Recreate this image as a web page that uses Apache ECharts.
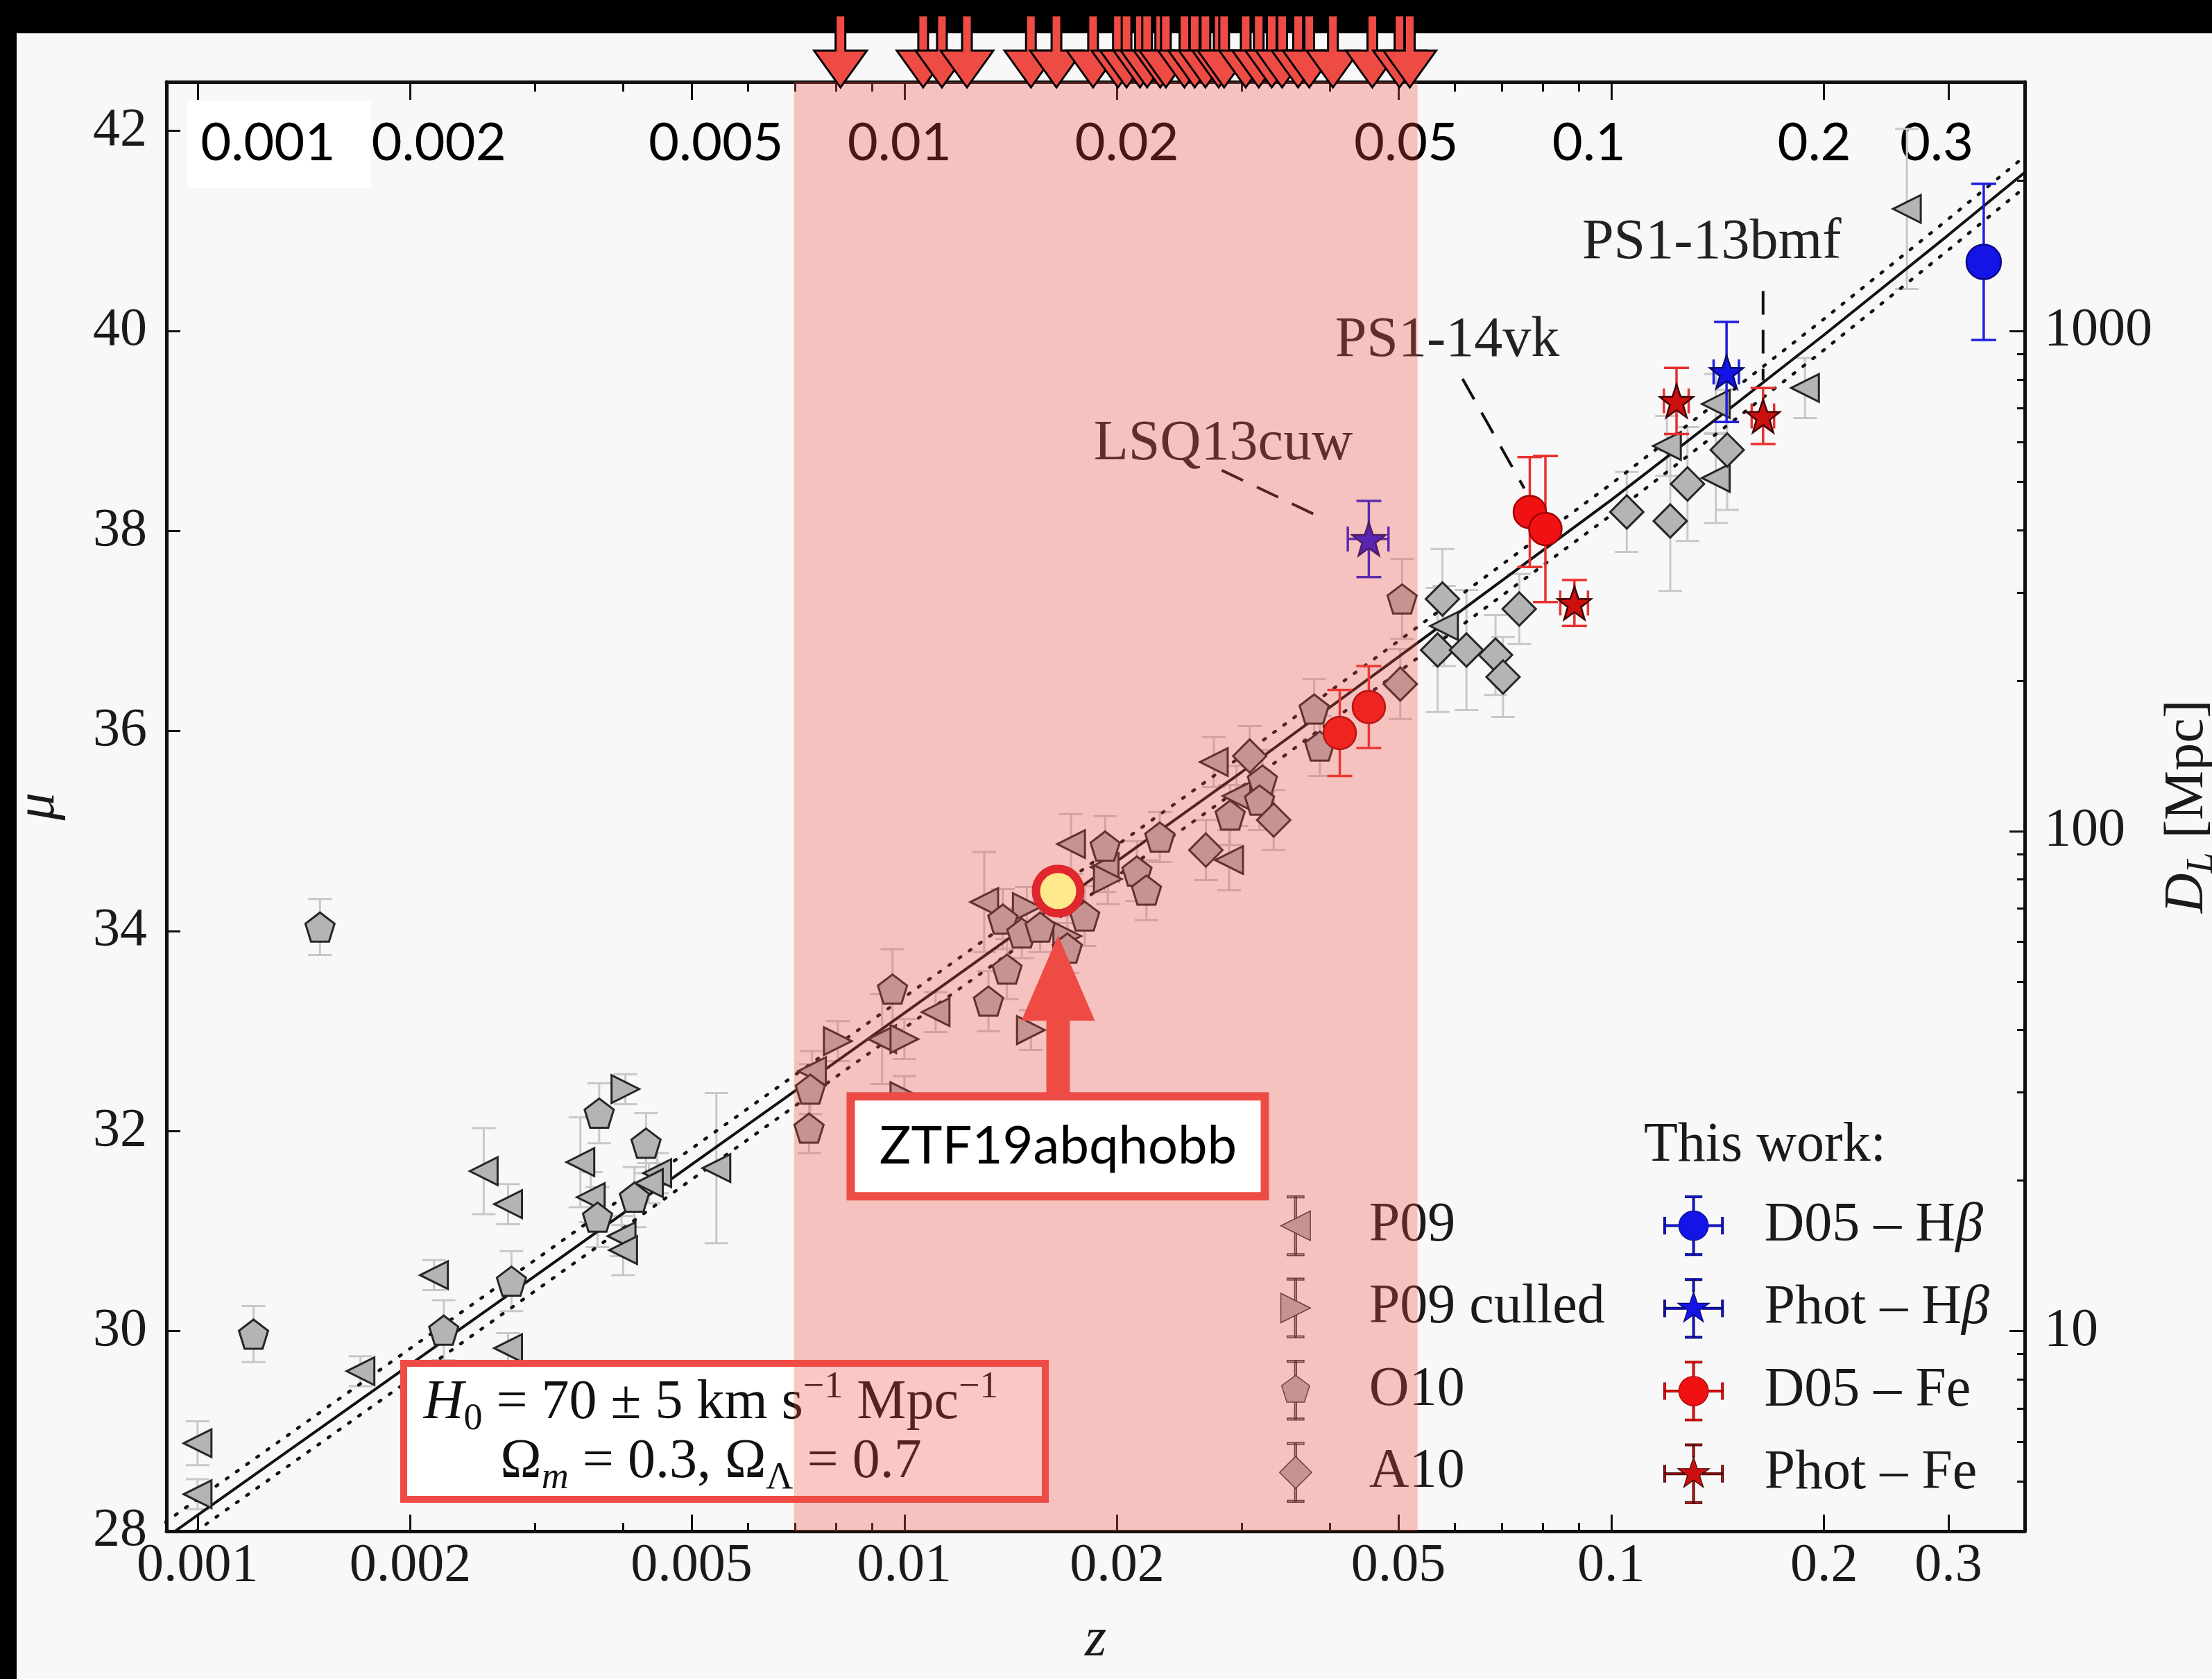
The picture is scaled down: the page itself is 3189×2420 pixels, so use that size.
<!DOCTYPE html>
<html>
<head>
<meta charset="utf-8">
<script src="https://cdn.jsdelivr.net/npm/echarts@6/dist/echarts.min.js"></script>
<style>
  html, body { margin: 0; padding: 0; background: #000; }
  #chart { width: 3189px; height: 2420px; }
</style>
</head>
<body>
<div id="chart"></div>
<script>
// ---------------- axis ticks ----------------
const zTicks = [0.001, 0.002, 0.005, 0.01, 0.02, 0.05, 0.1, 0.2, 0.3];
const zTickLabels = ['0.001', '0.002', '0.005', '0.01', '0.02', '0.05', '0.1', '0.2', '0.3'];
const zMinorTicks = [0.003, 0.004, 0.006, 0.007, 0.008, 0.009, 0.03, 0.04, 0.06, 0.07, 0.08, 0.09];
const dlTicks = [10, 100, 1000];
const dlTickLabels = ['10', '100', '1000'];
const dlMinorTicks = [5, 6, 7, 8, 9, 20, 30, 40, 50, 60, 70, 80, 90, 200, 300, 400, 500, 600, 700, 800, 900, 2000];

// ---------------- literature samples ----------------
const p09Z   = [0.00100, 0.00100, 0.00170, 0.00216, 0.00275, 0.00254, 0.00275, 0.00348, 0.00360, 0.00398, 0.00400, 0.00447, 0.00435, 0.00542, 0.0074, 0.0093, 0.01107, 0.01297, 0.01721, 0.0192, 0.0274, 0.0295, 0.0288, 0.058, 0.1199, 0.1406, 0.1406, 0.188, 0.262];
const p09Mu  = [28.88, 28.37, 29.60, 30.56, 29.83, 31.60, 31.27, 31.69, 31.34, 30.95, 30.81, 31.58, 31.48, 31.63, 32.60, 32.92, 33.19, 34.29, 34.87, 34.64, 35.69, 35.35, 34.71, 37.05, 38.85, 38.53, 39.27, 39.43, 41.22];
const p09Err = [0.22, 0.15, 0.15, 0.15, 0.15, 0.43, 0.20, 0.45, 0.25, 0.20, 0.25, 0.20, 0.20, 0.75, 0.20, 0.45, 0.20, 0.50, 0.30, 0.25, 0.25, 0.30, 0.30, 0.40, 0.30, 0.45, 0.30, 0.30, 0.80];

const p09cZ   = [0.00403, 0.00805, 0.0100, 0.0100, 0.0151, 0.0149, 0.0194, 0.0170];
const p09cMu  = [32.42, 32.90, 32.92, 32.35, 33.01, 34.24, 34.52, 33.95];
const p09cErr = [0.15, 0.20, 0.20, 0.20, 0.20, 0.20, 0.25, 0.20];

const o10Z   = [0.00149, 0.00120, 0.00223, 0.00278, 0.00370, 0.00431, 0.00368, 0.00415, 0.00733, 0.00736, 0.00962, 0.01315, 0.01397, 0.01378, 0.01466, 0.01556, 0.01799, 0.0170, 0.01923, 0.02133, 0.0220, 0.02298, 0.0321, 0.0318, 0.0289, 0.0380, 0.0387, 0.0506];
const o10Mu  = [34.04, 29.97, 30.01, 30.50, 32.18, 31.88, 31.14, 31.34, 32.03, 32.42, 33.42, 33.30, 33.62, 34.12, 33.98, 34.04, 34.15, 33.83, 34.85, 34.60, 34.41, 34.94, 35.51, 35.31, 35.16, 36.22, 35.85, 37.32];
const o10Err = [0.28, 0.28, 0.30, 0.30, 0.30, 0.30, 0.30, 0.30, 0.25, 0.25, 0.40, 0.30, 0.30, 0.30, 0.25, 0.25, 0.30, 0.25, 0.30, 0.30, 0.30, 0.25, 0.30, 0.30, 0.30, 0.30, 0.30, 0.40];

const a10Z   = [0.0267, 0.0308, 0.0333, 0.0503, 0.0577, 0.0568, 0.0624, 0.0686, 0.0703, 0.0741, 0.1052, 0.1212, 0.1282, 0.1459];
const a10Mu  = [34.81, 35.75, 35.11, 36.47, 37.32, 36.81, 36.81, 36.76, 36.54, 37.22, 38.19, 38.10, 38.47, 38.81];
const a10Err = [0.30, 0.30, 0.30, 0.35, 0.50, 0.62, 0.60, 0.40, 0.40, 0.35, 0.40, 0.70, 0.57, 0.60];

// ---------------- this work ----------------
const d05HbZ = [0.3365];
const d05HbMu = [40.69];
const d05HbErr = [0.78];

const photHbZ = [0.0454, 0.1456];
const photHbMu = [37.92, 39.59];
const photHbErr = [0.38, 0.50];
const photHbZErr = [0.0030, 0.0060];

const d05FeZ = [0.0413, 0.0454, 0.0767, 0.0807];
const d05FeMu = [35.98, 36.24, 38.19, 38.02];
const d05FeErr = [0.43, 0.41, 0.55, 0.73];

const photFeZ = [0.0887, 0.1237, 0.164];
const photFeMu = [37.28, 39.30, 39.15];
const photFeErr = [0.23, 0.33, 0.28];
const photFeZErr = [0.004, 0.005, 0.006];

// ---------------- Hubble relations ----------------
const hubbleZ    = [0.0009, 0.001, 0.003, 0.01, 0.03, 0.05, 0.1, 0.15, 0.2, 0.3, 0.39];
const hubbleMu70 = [27.93, 28.16, 30.55, 33.18, 35.59, 36.74, 38.31, 39.27, 39.96, 40.96, 41.62];
const hubbleMu65 = [28.09, 28.32, 30.71, 33.34, 35.75, 36.90, 38.47, 39.43, 40.12, 41.12, 41.78];
const hubbleMu75 = [27.78, 28.01, 30.40, 33.03, 35.44, 36.59, 38.16, 39.12, 39.81, 40.81, 41.47];

// ---------------- highlighted sample ----------------
const ztfName = 'ZTF19abqhobb';
const ztfZ = 0.0165;
const ztfMu = 34.40;
const sampleZ = [0.00812, 0.01063, 0.01130, 0.01226, 0.01510, 0.01641, 0.01849, 0.02005, 0.02062, 0.02154, 0.02205, 0.02301, 0.02344, 0.02490, 0.02575, 0.02666, 0.02784, 0.02834, 0.03040, 0.03172, 0.03309, 0.03423, 0.03606, 0.03739, 0.04039, 0.04592, 0.05017, 0.05188];
const bandZ = [0.00698, 0.0532];

const calloutNames = ['LSQ13cuw', 'PS1-14vk', 'PS1-13bmf'];
const calloutZ = [0.0454, 0.0767, 0.164];
const calloutMu = [37.92, 38.19, 39.15];

// ---------------- layout ----------------
const LZ_MIN = -3.044, LZ_MAX = -0.415, MU_MIN = 28, MU_MAX = 42.49;
const SERIF = 'Liberation Serif';
const SANS = 'Lato';
const RED = '#ef4b45';
const GRAY = '#b4b4b4', EDGE = '#262626', ERRGRAY = '#c8c8c8';
// callout text / leader-line offsets from their point, px
const calloutLayout = [
  { text: [-210, -136], line: [[-212, -99], [-63, -28]] },
  { text: [-119, -246], line: [[-97, -192], [-8, -34]] },
  { text: [-74, -249], line: [[0, -180], [0, -51]] }
];
// horizontal nudges of the upper redshift labels, px
const topLabelShift = [0, 41, 35, -7, 14, 11, -32, -14, -17];

const lg = Math.log10;
const muOfDl = d => 5 * lg(d) + 25;

function markerPts(z, mu) { return z.map((v, i) => [lg(v), mu[i]]); }
function errPts(z, mu, err, zErr) {
  return z.map((v, i) => {
    const ze = zErr ? zErr[i] : 0;
    return [lg(v), mu[i], err[i], lg(v - ze), lg(v + ze)];
  });
}
function errorBars(color, capHalf, width) {
  return function (params, api) {
    const x = api.value(0), y = api.value(1), e = api.value(2);
    const xl = api.value(3), xh = api.value(4);
    const t = api.coord([x, y + e]), b = api.coord([x, y - e]);
    const st = { stroke: color, lineWidth: width, fill: null };
    const ch = [
      { type: 'line', shape: { x1: t[0], y1: t[1], x2: b[0], y2: b[1] }, style: st },
      { type: 'line', shape: { x1: t[0] - capHalf, y1: t[1], x2: t[0] + capHalf, y2: t[1] }, style: st },
      { type: 'line', shape: { x1: b[0] - capHalf, y1: b[1], x2: b[0] + capHalf, y2: b[1] }, style: st }
    ];
    if (xh > xl) {
      const l = api.coord([xl, y]), r = api.coord([xh, y]);
      ch.push({ type: 'line', shape: { x1: l[0], y1: l[1], x2: r[0], y2: r[1] }, style: st });
      ch.push({ type: 'line', shape: { x1: l[0], y1: l[1] - capHalf, x2: l[0], y2: l[1] + capHalf }, style: st });
      ch.push({ type: 'line', shape: { x1: r[0], y1: r[1] - capHalf, x2: r[0], y2: r[1] + capHalf }, style: st });
    }
    return { type: 'group', children: ch };
  };
}

// marker shapes
const PENTAGON = 'path://M50,0L97.55,34.55L79.39,90.45L20.61,90.45L2.45,34.55Z';
const STAR = 'path://M50,0L61.76,33.82L97.55,34.55L69.02,56.18L79.39,90.45L50,70L20.61,90.45L30.98,56.18L2.45,34.55L38.24,33.82Z';

// legend icons: marker plus its error bars
const vBar = (t, b) => `M48.5,5H51.5V${t}H48.5Z M48.5,${b}H51.5V95H48.5Z M37,3.5H63V6.5H37Z M37,93.5H63V96.5H37Z`;
const hvBar = (t, b, l, r) => vBar(t, b) + ` M5,48.5H${l}V51.5H5Z M${r},48.5H95V51.5H${r}Z M3.5,37H6.5V63H3.5Z M93.5,37H96.5V63H93.5Z`;
const ICON = {
  p09: 'path://M27,50L73,27L73,73Z ' + vBar(38.5, 61.5),
  p09c: 'path://M73,50L27,27L27,73Z ' + vBar(38.5, 61.5),
  o10: 'path://M50,27L71.87,42.89L63.52,68.61L36.48,68.61L28.13,42.89Z ' + vBar(27, 68.6),
  a10: 'path://M50,25L75,50L50,75L25,50Z ' + vBar(25, 75),
  circ: 'path://M27,50A23,23 0 1,1 73,50A23,23 0 1,1 27,50Z ' + hvBar(27, 73, 27, 73),
  star: 'path://M50,24L55.88,41.91L74.73,41.97L59.51,53.09L65.28,71.03L50,60L34.72,71.03L40.49,53.09L25.27,41.97L44.12,41.91Z ' + hvBar(24, 60, 36, 64)
};

function tickIndex(v) { return zTicks.findIndex(t => Math.abs(lg(t) - v) < 1e-6); }

// rich styles for the upper labels
const topRich = {
  t: { fontFamily: SANS, fontSize: 76, color: '#000', padding: [22, 0, 27, 0] },
  w: { fontFamily: SANS, fontSize: 76, color: '#000', backgroundColor: '#ffffff', padding: [22, 51, 27, 20] },
  s0: { width: 234, fontSize: 10 }
};
topLabelShift.forEach((d, i) => { if (i > 0 && d !== 0) topRich['s' + i] = { width: Math.abs(2 * d), fontSize: 10 }; });
function topLabel(v) {
  const i = tickIndex(v);
  if (i < 0) return '';
  if (i === 0) return '{s0| }{w|' + zTickLabels[0] + '}';
  const d = topLabelShift[i];
  if (d > 0) return '{s' + i + '| }{t|' + zTickLabels[i] + '}';
  if (d < 0) return '{t|' + zTickLabels[i] + '}{s' + i + '| }';
  return '{t|' + zTickLabels[i] + '}';
}

const zTickLog = zTicks.map(lg);
const zMinorLog = zMinorTicks.map(lg);

const axisBase = {
  type: 'value', min: LZ_MIN, max: LZ_MAX, splitLine: { show: false }, gridIndex: 0
};
const blackLine = { show: true, lineStyle: { color: '#111', width: 5 } };

const chart = echarts.init(document.getElementById('chart'), null, { renderer: 'canvas', width: 3189, height: 2420 });

const option = {
  animation: false,
  backgroundColor: '#f8f8f8',
  textStyle: { fontFamily: SERIF },
  grid: { left: 240, top: 118, right: 270, bottom: 213, show: false, containLabel: false, outerBoundsMode: 'none' },
  xAxis: [
    Object.assign({}, axisBase, {
      position: 'bottom',
      axisLine: blackLine,
      axisTick: { show: true, inside: true, length: 24, customValues: zTickLog, lineStyle: { color: '#111', width: 3 } },
      axisLabel: {
        customValues: zTickLog, margin: 12, fontFamily: SERIF, fontSize: 78, color: '#1a1a1a',
        showMinLabel: true, showMaxLabel: true,
        formatter: v => { const i = tickIndex(v); return i < 0 ? '' : zTickLabels[i]; }
      },
      name: 'z', nameLocation: 'middle', nameGap: 118,
      nameTextStyle: { fontFamily: SERIF, fontStyle: 'italic', fontSize: 80, color: '#1a1a1a' }
    }),
    Object.assign({}, axisBase, {
      position: 'bottom',
      axisLine: { show: false },
      axisTick: { show: true, inside: true, length: 12, customValues: zMinorLog, lineStyle: { color: '#111', width: 3 } },
      axisLabel: { show: false }
    }),
    // upper axis: labels from 0.002 on
    Object.assign({}, axisBase, {
      position: 'top',
      axisLine: blackLine,
      axisTick: { show: true, inside: true, length: 26, customValues: zTickLog, lineStyle: { color: '#111', width: 3 } },
      axisLabel: { inside: true, customValues: zTickLog.slice(1), margin: 28, showMinLabel: true, showMaxLabel: true, formatter: topLabel, rich: topRich }
    }),
    // upper axis: minor ticks and the boxed first label
    Object.assign({}, axisBase, {
      position: 'top',
      axisLine: { show: false },
      axisTick: { show: true, inside: true, length: 14, customValues: zMinorLog, lineStyle: { color: '#111', width: 3 } },
      axisLabel: { inside: true, customValues: zTickLog.slice(0, 1), margin: 28, showMinLabel: true, showMaxLabel: true, formatter: topLabel, rich: topRich }
    })
  ],
  yAxis: [
    {
      type: 'value', min: MU_MIN, max: MU_MAX, interval: 2, position: 'left',
      splitLine: { show: false },
      axisLine: blackLine,
      axisTick: { show: true, inside: true, length: 20, lineStyle: { color: '#111', width: 3 } },
      axisLabel: { margin: 28, fontFamily: SERIF, fontSize: 78, color: '#1a1a1a', showMinLabel: true },
      name: 'μ', nameLocation: 'middle', nameRotate: 90, nameGap: 144,
      nameTextStyle: { fontFamily: SERIF, fontStyle: 'italic', fontSize: 80, color: '#1a1a1a' }
    },
    {
      type: 'value', min: MU_MIN, max: MU_MAX, position: 'right',
      splitLine: { show: false },
      axisLine: blackLine,
      axisTick: { show: true, inside: true, length: 22, customValues: dlTicks.map(muOfDl), lineStyle: { color: '#111', width: 3 } },
      axisLabel: {
        customValues: dlTicks.map(muOfDl), margin: 28, fontFamily: SERIF, fontSize: 78, color: '#1a1a1a',
        formatter: v => { const i = dlTicks.findIndex(d => Math.abs(muOfDl(d) - v) < 1e-6); return i < 0 ? '' : dlTickLabels[i]; }
      },
      name: '{i|D}{s|L} [Mpc]', nameLocation: 'middle', nameRotate: 90, nameGap: 182,
      nameTextStyle: {
        fontFamily: SERIF, fontSize: 80, color: '#1a1a1a',
        rich: {
          i: { fontFamily: SERIF, fontStyle: 'italic', fontSize: 80, color: '#1a1a1a' },
          s: { fontFamily: SERIF, fontStyle: 'italic', fontSize: 54, color: '#1a1a1a', verticalAlign: 'bottom', lineHeight: 96 }
        }
      }
    },
    {
      type: 'value', min: MU_MIN, max: MU_MAX, position: 'right',
      splitLine: { show: false },
      axisLine: { show: false },
      axisTick: { show: true, inside: true, length: 11, customValues: dlMinorTicks.map(muOfDl), lineStyle: { color: '#111', width: 3 } },
      axisLabel: { show: false }
    }
  ],
  legend: [
    {
      // the legend box starts at its widest icon's left edge
      orient: 'vertical', left: 1844, top: 1723, padding: 0,
      itemWidth: 202, itemHeight: 86, itemGap: 31, selectedMode: false, z: 3,
      textStyle: { fontFamily: SERIF, fontSize: 80, color: '#1a1a1a', lineHeight: 86 },
      data: [
        { name: 'P09', icon: ICON.p09, itemStyle: { color: GRAY, borderColor: '#3a3a3a', borderWidth: 1.5 } },
        { name: 'P09 culled', icon: ICON.p09c, itemStyle: { color: GRAY, borderColor: '#3a3a3a', borderWidth: 1.5 } },
        { name: 'O10', icon: ICON.o10, itemStyle: { color: GRAY, borderColor: '#3a3a3a', borderWidth: 1.5 } },
        { name: 'A10', icon: ICON.a10, itemStyle: { color: GRAY, borderColor: '#3a3a3a', borderWidth: 1.5 } }
      ]
    },
    {
      orient: 'vertical', left: 2398, top: 1723, padding: 0,
      itemWidth: 194, itemHeight: 86, itemGap: 32, selectedMode: false, z: 3,
      textStyle: {
        fontFamily: SERIF, fontSize: 80, color: '#1a1a1a', lineHeight: 86,
        rich: { b: { fontFamily: SERIF, fontStyle: 'italic', fontSize: 80, color: '#1a1a1a', lineHeight: 86 } }
      },
      formatter: name => name.replace('β', '{b|β}'),
      data: [
        { name: 'D05 – Hβ', icon: ICON.circ, itemStyle: { color: '#1414e6', borderColor: '#0a0a8a', borderWidth: 1.2 } },
        { name: 'Phot – Hβ', icon: ICON.star, itemStyle: { color: '#1414e6', borderColor: '#0a0a6a', borderWidth: 1.2 } },
        { name: 'D05 – Fe', icon: ICON.circ, itemStyle: { color: '#f01212', borderColor: '#a00000', borderWidth: 1.2 } },
        { name: 'Phot – Fe', icon: ICON.star, itemStyle: { color: '#cc1010', borderColor: '#400000', borderWidth: 1.2 } }
      ]
    }
  ],
  graphic: {
    elements: [
      { type: 'rect', shape: { x: 0, y: 0, width: 3189, height: 48 }, style: { fill: '#000' }, z: 0, silent: true },
      { type: 'rect', shape: { x: 0, y: 0, width: 24, height: 2420 }, style: { fill: '#000' }, z: 0, silent: true },
      { type: 'text', x: 2370, y: 1652, z: 3, silent: true,
        style: { text: 'This work:', fontFamily: SERIF, fontSize: 80, fill: '#1a1a1a', align: 'left', verticalAlign: 'middle' } },
      { type: 'rect', shape: { x: 582, y: 1965, width: 925, height: 196 }, style: { fill: '#ffffff' }, z: 4, silent: true },
      { type: 'text', x: 1025, y: 2023, z: 4, silent: true,
        style: {
          text: '{i|H}{sb|0}{n| = 70 ± 5 km s}{sp|−1}{n| Mpc}{sp|−1}',
          align: 'center', verticalAlign: 'middle', fill: '#111',
          rich: {
            i: { fontFamily: SERIF, fontStyle: 'italic', fontSize: 80, lineHeight: 100, fill: '#111' },
            n: { fontFamily: SERIF, fontSize: 80, lineHeight: 100, fill: '#111' },
            sb: { fontFamily: SERIF, fontSize: 54, lineHeight: 100, verticalAlign: 'bottom', fill: '#111' },
            sp: { fontFamily: SERIF, fontSize: 54, lineHeight: 100, verticalAlign: 'top', fill: '#111' }
          }
        } },
      { type: 'text', x: 1025, y: 2108, z: 4, silent: true,
        style: {
          text: '{n|Ω}{si|m}{n| = 0.3, Ω}{sb|Λ}{n| = 0.7}',
          align: 'center', verticalAlign: 'middle', fill: '#111',
          rich: {
            n: { fontFamily: SERIF, fontSize: 80, lineHeight: 100, fill: '#111' },
            si: { fontFamily: SERIF, fontStyle: 'italic', fontSize: 54, lineHeight: 100, verticalAlign: 'bottom', fill: '#111' },
            sb: { fontFamily: SERIF, fontSize: 54, lineHeight: 100, verticalAlign: 'bottom', fill: '#111' }
          }
        } },
      { type: 'rect', shape: { x: 582, y: 1965, width: 925, height: 196 }, style: { fill: null, stroke: RED, lineWidth: 10 }, z: 10, silent: true }
    ]
  },
  series: [
    // literature error bars
    { type: 'custom', z: 2, silent: true, renderItem: errorBars(ERRGRAY, 17, 3), data: errPts(p09Z, p09Mu, p09Err) },
    { type: 'custom', z: 2, silent: true, renderItem: errorBars(ERRGRAY, 17, 3), data: errPts(p09cZ, p09cMu, p09cErr) },
    { type: 'custom', z: 2, silent: true, renderItem: errorBars(ERRGRAY, 17, 3), data: errPts(o10Z, o10Mu, o10Err) },
    { type: 'custom', z: 2, silent: true, renderItem: errorBars(ERRGRAY, 17, 3), data: errPts(a10Z, a10Mu, a10Err) },
    // literature markers
    { name: 'P09', type: 'scatter', z: 2, silent: true, symbol: 'triangle', symbolRotate: 90, symbolSize: 40,
      itemStyle: { color: GRAY, borderColor: EDGE, borderWidth: 3, opacity: 1 }, data: markerPts(p09Z, p09Mu) },
    { name: 'P09 culled', type: 'scatter', z: 2, silent: true, symbol: 'triangle', symbolRotate: -90, symbolSize: 40,
      itemStyle: { color: GRAY, borderColor: EDGE, borderWidth: 3, opacity: 1 }, data: markerPts(p09cZ, p09cMu) },
    { name: 'O10', type: 'scatter', z: 2, silent: true, symbol: PENTAGON, symbolSize: 42,
      itemStyle: { color: GRAY, borderColor: EDGE, borderWidth: 3, opacity: 1 }, data: markerPts(o10Z, o10Mu) },
    { name: 'A10', type: 'scatter', z: 2, silent: true, symbol: 'diamond', symbolSize: 48,
      itemStyle: { color: GRAY, borderColor: EDGE, borderWidth: 3, opacity: 1 }, data: markerPts(a10Z, a10Mu) },
    // Hubble relations
    { type: 'line', z: 2, silent: true, showSymbol: false, symbol: 'none', clip: true,
      lineStyle: { color: '#111', width: 4 }, data: markerPts(hubbleZ, hubbleMu70) },
    { type: 'line', z: 2, silent: true, showSymbol: false, symbol: 'none', clip: true,
      lineStyle: { color: '#111', width: 4.5, type: [3, 15], cap: 'round' }, data: markerPts(hubbleZ, hubbleMu65) },
    { type: 'line', z: 2, silent: true, showSymbol: false, symbol: 'none', clip: true,
      lineStyle: { color: '#111', width: 4.5, type: [3, 15], cap: 'round' }, data: markerPts(hubbleZ, hubbleMu75) },
    // this work: error bars
    { type: 'custom', z: 3, silent: true, renderItem: errorBars('#1e1ee0', 18, 3.5), data: errPts(d05HbZ, d05HbMu, d05HbErr) },
    { type: 'custom', z: 3, silent: true, renderItem: errorBars('#1e1ee0', 18, 3.5), data: errPts(photHbZ, photHbMu, photHbErr, photHbZErr) },
    { type: 'custom', z: 3, silent: true, renderItem: errorBars('#e83030', 18, 3.5), data: errPts(d05FeZ, d05FeMu, d05FeErr) },
    { type: 'custom', z: 3, silent: true, renderItem: errorBars('#e83030', 18, 3.5), data: errPts(photFeZ, photFeMu, photFeErr, photFeZErr) },
    // this work: markers
    { name: 'D05 – Hβ', type: 'scatter', z: 3, silent: true, symbol: 'circle', symbolSize: 50,
      itemStyle: { color: '#1414e6', borderColor: '#0a0a8a', borderWidth: 2.5, opacity: 1 }, data: markerPts(d05HbZ, d05HbMu) },
    { name: 'Phot – Hβ', type: 'scatter', z: 3, silent: true, symbol: STAR, symbolSize: 48,
      itemStyle: { color: '#1414e6', borderColor: '#0a0a6a', borderWidth: 2.5, opacity: 1 }, data: markerPts(photHbZ, photHbMu) },
    { name: 'D05 – Fe', type: 'scatter', z: 3, silent: true, symbol: 'circle', symbolSize: 47,
      itemStyle: { color: '#f01212', borderColor: '#a00000', borderWidth: 2.5, opacity: 1 }, data: markerPts(d05FeZ, d05FeMu) },
    { name: 'Phot – Fe', type: 'scatter', z: 3, silent: true, symbol: STAR, symbolSize: 48,
      itemStyle: { color: '#cc1010', borderColor: '#400000', borderWidth: 2.5, opacity: 1 }, data: markerPts(photFeZ, photFeMu) },
    // callouts naming individual objects
    { type: 'custom', z: 3, silent: true, clip: false,
      data: markerPts(calloutZ, calloutMu),
      renderItem: (params, api) => {
        const p = api.coord([api.value(0), api.value(1)]);
        const L = calloutLayout[params.dataIndex];
        return { type: 'group', children: [
          { type: 'line', shape: { x1: p[0] + L.line[0][0], y1: p[1] + L.line[0][1], x2: p[0] + L.line[1][0], y2: p[1] + L.line[1][1] },
            style: { stroke: '#111', lineWidth: 4, lineDash: [34, 22] } },
          { type: 'text', x: p[0] + L.text[0], y: p[1] + L.text[1],
            style: { text: calloutNames[params.dataIndex], fontFamily: SERIF, fontSize: 82, fill: '#222', align: 'center', verticalAlign: 'middle' } }
        ] };
      } },
    // shaded redshift range of the sample
    { type: 'custom', z: 6, silent: true, clip: false,
      data: [[lg(bandZ[0]), lg(bandZ[1])]],
      renderItem: (params, api) => {
        const a = api.coord([api.value(0), MU_MAX]);
        const b = api.coord([api.value(1), MU_MIN]);
        return { type: 'rect', shape: { x: a[0], y: a[1], width: b[0] - a[0], height: b[1] - a[1] },
          style: { fill: 'rgba(238,75,65,0.31)' } };
      } },
    // redshifts of the sample, marked along the top
    { type: 'custom', z: 9, silent: true, clip: false,
      data: sampleZ.map(z => [lg(z), MU_MAX]),
      renderItem: (params, api) => {
        const p = api.coord([api.value(0), MU_MAX]);
        const x = p[0], y = p[1];
        return { type: 'polygon',
          shape: { points: [[x - 7, y - 96], [x + 7, y - 96], [x + 7, y - 45], [x + 38, y - 45], [x, y + 8], [x - 38, y - 45], [x - 7, y - 45]] },
          style: { fill: RED, stroke: '#000', lineWidth: 3 } };
      } },
    // highlighted object
    { type: 'custom', z: 9, silent: true, clip: false,
      data: [[lg(ztfZ), ztfMu]],
      renderItem: (params, api) => {
        const p = api.coord([api.value(0), api.value(1)]);
        const x = p[0], y = p[1];
        return { type: 'group', children: [
          { type: 'polygon', shape: { points: [[x, y + 64], [x + 53, y + 187], [x + 17, y + 187], [x + 17, y + 296], [x - 17, y + 296], [x - 17, y + 187], [x - 53, y + 187]] },
            style: { fill: RED } },
          { type: 'rect', shape: { x: x - 299, y: y + 296, width: 597, height: 144 }, style: { fill: '#ffffff', stroke: RED, lineWidth: 12 } },
          { type: 'text', x: x, y: y + 368,
            style: { text: ztfName, fontFamily: SANS, fontSize: 76, fill: '#000', align: 'center', verticalAlign: 'middle' } }
        ] };
      } },
    { type: 'scatter', z: 10, silent: true, symbol: 'circle', symbolSize: 64,
      itemStyle: { color: '#fde98c', borderColor: '#e0262e', borderWidth: 12, opacity: 1 },
      data: [[lg(ztfZ), ztfMu]] }
  ]
};

chart.setOption(option);
</script>
</body>
</html>
